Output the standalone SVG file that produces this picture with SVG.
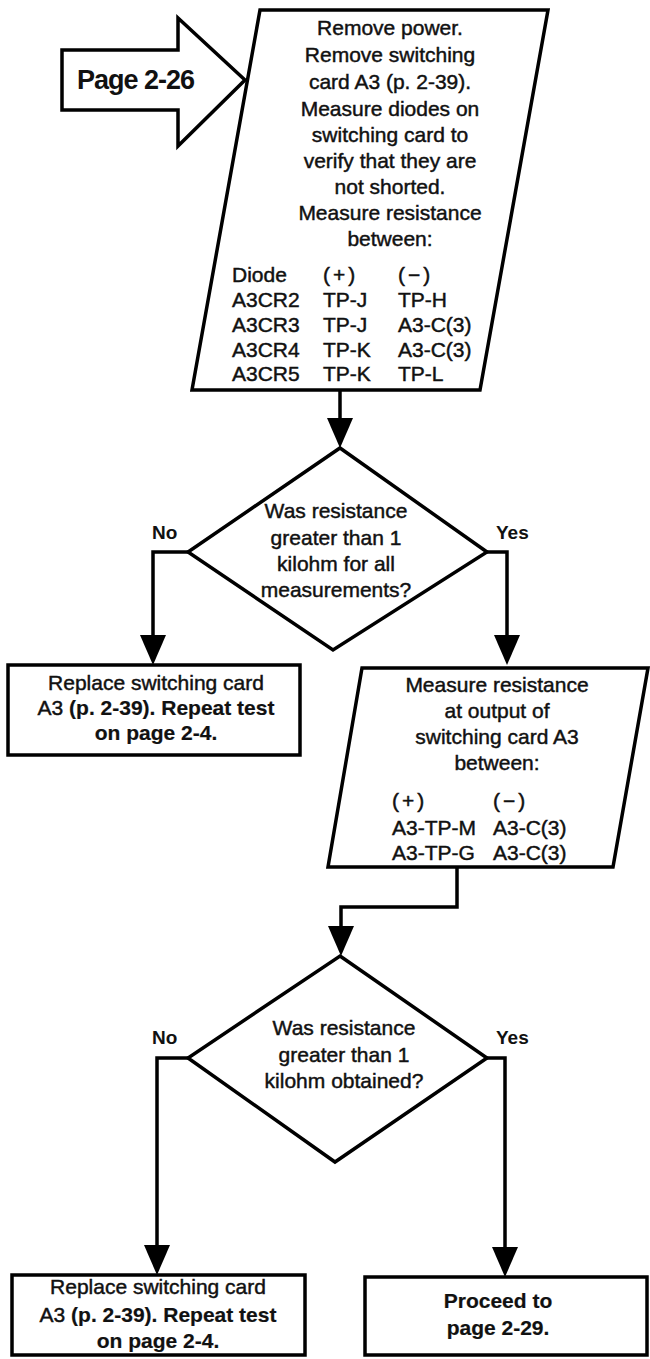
<svg xmlns="http://www.w3.org/2000/svg" width="650" height="1359" viewBox="0 0 650 1359">
  <style>
    .shape { fill: #fff; stroke: #000; stroke-width: 3.5; stroke-linejoin: miter; }
    .line { fill: none; stroke: #000; stroke-width: 3.5; }
    .t { font-family: "Liberation Sans", Arial, sans-serif; font-size: 21px; fill: #111; stroke: #111; stroke-width: 0.45; }
    .c { text-anchor: middle; }
    .b { font-weight: bold; stroke-width: 0.2; }
    .lbl { font-family: "Liberation Sans", Arial, sans-serif; font-size: 19px; font-weight: bold; fill: #111; }
    .pg { font-family: "Liberation Sans", Arial, sans-serif; font-size: 27px; font-weight: bold; fill: #111; letter-spacing: -1px; }
  </style>
  <defs>
    <marker id="head" viewBox="0 0 30 26" refX="20" refY="13" markerWidth="30" markerHeight="26" markerUnits="userSpaceOnUse" orient="auto">
      <path d="M0,0 L30,13 L0,26 Z" fill="#000"/>
    </marker>
  </defs>
  <rect width="650" height="1359" fill="#fff"/>

  <!-- off-page connector -->
  <g id="offpage">
    <path class="shape" d="M62,50 L178,50 L178,18 L245,80 L178,146 L178,110 L62,110 Z" stroke-width="4"/>
    <text class="pg" x="77" y="89">Page 2-26</text>
  </g>

  <!-- step: remove card, measure diodes -->
  <g id="measure-diodes">
    <path class="shape" d="M260,10 L548,10 L480,390 L192,390 Z"/>
    <text class="t c" x="390" y="35">Remove power.</text>
    <text class="t c" x="390" y="62">Remove switching</text>
    <text class="t c" x="390" y="89">card A3 (p. 2-39).</text>
    <text class="t c" x="390" y="116">Measure diodes on</text>
    <text class="t c" x="390" y="142">switching card to</text>
    <text class="t c" x="390" y="168">verify that they are</text>
    <text class="t c" x="390" y="194">not shorted.</text>
    <text class="t c" x="390" y="220">Measure resistance</text>
    <text class="t c" x="390" y="246">between:</text>
    <text class="t" x="232" y="282">Diode</text>
    <text class="t" x="323" y="282" letter-spacing="3">(+)</text>
    <text class="t" x="398" y="282" letter-spacing="3">(−)</text>
    <text class="t" x="232" y="307">A3CR2</text>
    <text class="t" x="323" y="307">TP-J</text>
    <text class="t" x="398" y="307">TP-H</text>
    <text class="t" x="232" y="332">A3CR3</text>
    <text class="t" x="323" y="332">TP-J</text>
    <text class="t" x="398" y="332">A3-C(3)</text>
    <text class="t" x="232" y="357">A3CR4</text>
    <text class="t" x="323" y="357">TP-K</text>
    <text class="t" x="398" y="357">A3-C(3)</text>
    <text class="t" x="232" y="381">A3CR5</text>
    <text class="t" x="323" y="381">TP-K</text>
    <text class="t" x="398" y="381">TP-L</text>
  </g>

  <!-- decision 1 -->
  <g id="decision-all">
    <path class="shape" d="M340,448 L487,552 L333,650 L188,552 Z"/>
    <text class="t c" x="336" y="518">Was resistance</text>
    <text class="t c" x="336" y="545">greater than 1</text>
    <text class="t c" x="336" y="571">kilohm for all</text>
    <text class="t c" x="336" y="597">measurements?</text>
  </g>

  <!-- replace card (first branch) -->
  <g id="replace-1">
    <rect class="shape" x="8" y="665" width="292" height="90"/>
    <text class="t c" x="156" y="690">Replace switching card</text>
    <text class="t c" x="156" y="715">A3 <tspan class="b">(p. 2-39). Repeat test</tspan></text>
    <text class="t c b" x="156" y="740">on page 2-4.</text>
  </g>

  <!-- step: measure output resistance -->
  <g id="measure-output">
    <path class="shape" d="M362,668 L648,668 L613,867 L328,867 Z"/>
    <text class="t c" x="497" y="692">Measure resistance</text>
    <text class="t c" x="497" y="718">at output of</text>
    <text class="t c" x="497" y="744">switching card A3</text>
    <text class="t c" x="497" y="770">between:</text>
    <text class="t" x="392" y="808" letter-spacing="3">(+)</text>
    <text class="t" x="493" y="808" letter-spacing="3">(−)</text>
    <text class="t" x="392" y="835">A3-TP-M</text>
    <text class="t" x="493" y="835">A3-C(3)</text>
    <text class="t" x="392" y="860">A3-TP-G</text>
    <text class="t" x="493" y="860">A3-C(3)</text>
  </g>

  <!-- decision 2 -->
  <g id="decision-obtained">
    <path class="shape" d="M340,956 L487,1058 L335,1162 L188,1058 Z"/>
    <text class="t c" x="344" y="1035">Was resistance</text>
    <text class="t c" x="344" y="1062">greater than 1</text>
    <text class="t c" x="344" y="1088">kilohm obtained?</text>
  </g>

  <!-- replace card (second branch) -->
  <g id="replace-2">
    <rect class="shape" x="12" y="1275" width="293" height="80"/>
    <text class="t c" x="158" y="1294">Replace switching card</text>
    <text class="t c" x="158" y="1322">A3 <tspan class="b">(p. 2-39). Repeat test</tspan></text>
    <text class="t c b" x="158" y="1348">on page 2-4.</text>
  </g>

  <!-- proceed -->
  <g id="proceed">
    <rect class="shape" x="365" y="1277" width="282" height="78"/>
    <text class="t c b" x="498" y="1308">Proceed to</text>
    <text class="t c b" x="498" y="1335">page 2-29.</text>
  </g>

  <!-- connectors -->
  <g id="connectors">
    <path class="line" d="M340,390 L340,438" marker-end="url(#head)"/>
    <path class="line" d="M188,552 L153,552 L153,655" marker-end="url(#head)"/>
    <path class="line" d="M487,552 L507,552 L507,655" marker-end="url(#head)"/>
    <path class="line" d="M457,867 L457,907 L341,907 L341,946" marker-end="url(#head)"/>
    <path class="line" d="M188,1058 L157,1058 L157,1265" marker-end="url(#head)"/>
    <path class="line" d="M487,1058 L505,1058 L505,1267" marker-end="url(#head)"/>
    <text class="lbl" x="152" y="539">No</text>
    <text class="lbl" x="496" y="539">Yes</text>
    <text class="lbl" x="152" y="1044">No</text>
    <text class="lbl" x="496" y="1044">Yes</text>
  </g>
</svg>
